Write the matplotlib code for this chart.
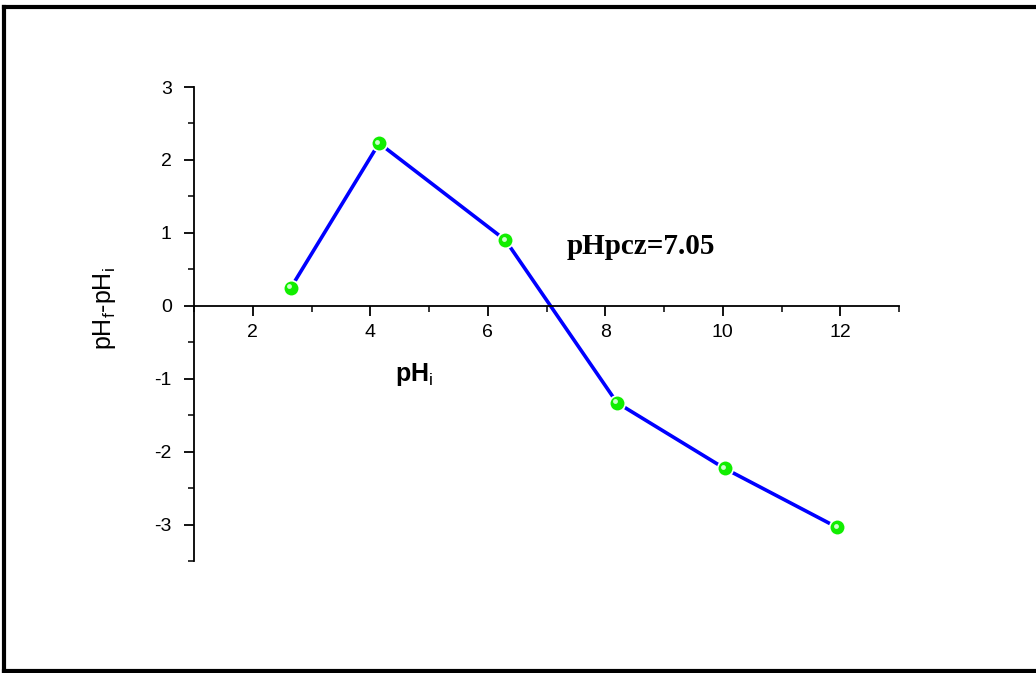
import numpy as np
import matplotlib.pyplot as plt
import matplotlib as mpl
from matplotlib.lines import Line2D
from matplotlib.ticker import MultipleLocator

mpl.rcParams['font.family'] = ['Liberation Sans', 'DejaVu Sans']
mpl.rcParams['axes.unicode_minus'] = False
mpl.rcParams['mathtext.fontset'] = 'custom'
mpl.rcParams['mathtext.rm'] = 'Liberation Sans'
mpl.rcParams['mathtext.it'] = 'Liberation Sans'
mpl.rcParams['mathtext.bf'] = 'Liberation Sans:bold'

ph_initial = [2.65, 4.15, 6.3, 8.2, 10.03, 11.95]
ph_diff = [0.25, 2.23, 0.9, -1.33, -2.23, -3.04]
pzc_label = 'pHpcz=7.05'

fig = plt.figure(figsize=(10.36, 6.73), dpi=100)
ax = fig.add_axes([0.1873, 0.1664, 0.6805, 0.7043])

# blue line with small gaps at the points (Origin style)
ax.plot(ph_initial, ph_diff, '-', color='#0000ff', lw=2.6, zorder=2)
ax.plot(ph_initial, ph_diff, 'o', ms=10, mfc='#11ee00', mec='white', mew=2.5, zorder=3)
ax.plot(ph_initial, ph_diff, 'o', ms=10, mfc='#11ee00', mec='#11ee00', mew=0, zorder=4)
# little highlight on each sphere
ax.plot([x - 0.03 for x in ph_initial], [y + 0.02 for y in ph_diff], 'o', ms=3.5,
        mfc='#ccffcc', mec='none', zorder=5)

ax.set_xlim(1, 13)
ax.set_ylim(-3.5, 3)
ax.spines['top'].set_visible(False)
ax.spines['right'].set_visible(False)
ax.spines['bottom'].set_position(('data', 0))
for s in ('left', 'bottom'):
    ax.spines[s].set_linewidth(1.3)

ax.xaxis.set_minor_locator(MultipleLocator(1))
ax.yaxis.set_minor_locator(MultipleLocator(0.5))
ax.set_xticks([2, 4, 6, 8, 10, 12])
ax.set_yticks([-3, -2, -1, 0, 1, 2, 3])
ax.tick_params(which='major', direction='out', length=7, width=1.3, labelsize=14)
ax.tick_params(axis='y', which='major', pad=9)
ax.tick_params(axis='x', which='major', pad=6)
ax.tick_params(which='minor', direction='out', length=4, width=1.1)

ax.text(4.75, -0.94, r'pH$_\mathrm{i}$', fontsize=18, fontweight='bold',
        ha='center', va='center')
ax.text(7.35, 0.81, pzc_label, fontsize=21, fontweight='bold', family='Liberation Serif',
        ha='left', va='center')
fig.text(0.101, 0.542, r'pH$_\mathrm{f}$-pH$_\mathrm{i}$', rotation=90, fontsize=18,
         ha='center', va='center')

# outer frame
for xs, ys in [([0.004, 0.004], [0.003, 0.989]), ([0.004, 1.0], [0.989, 0.989]),
               ([0.004, 1.0], [0.003, 0.003])]:
    fig.add_artist(Line2D(xs, ys, transform=fig.transFigure, color='black', lw=3))

fig.savefig('out.png', dpi=100)
